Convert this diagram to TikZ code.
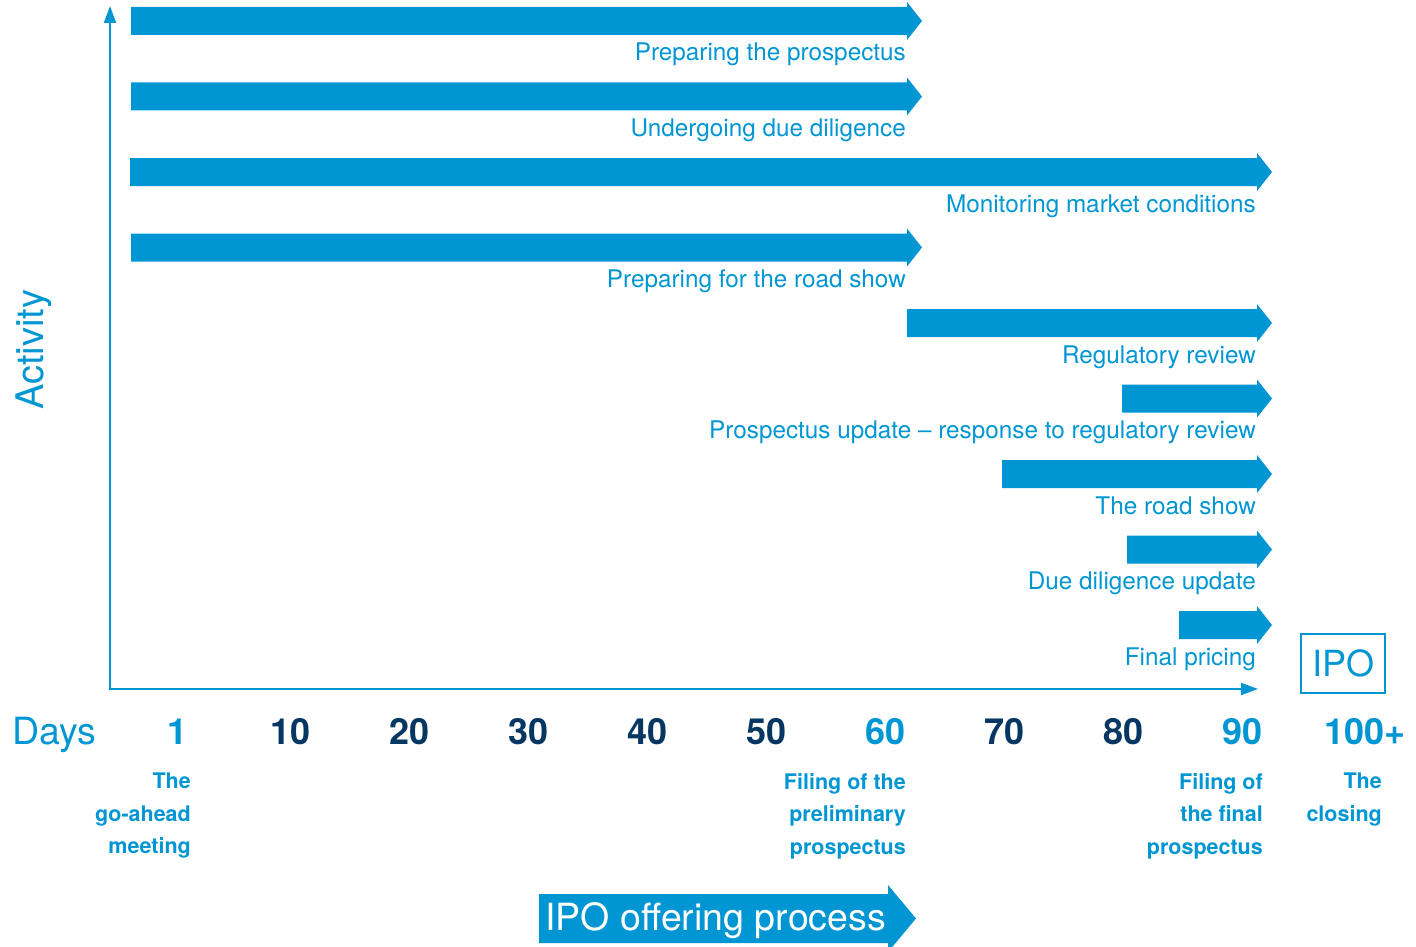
\documentclass[tikz,border=0pt]{standalone}
\usepackage{fontspec}
\setmainfont{TeX Gyre Heros}
\usetikzlibrary{arrows.meta}
\definecolor{ipoblue}{RGB}{0,150,211}
\definecolor{iponavy}{RGB}{6,55,99}

\tikzset{
    axisline/.style={draw=ipoblue, line width=2pt},
    actlabel/.style={text=ipoblue, font=\fontsize{24.3}{28}\selectfont, inner sep=0pt, anchor=base east},
    daynum/.style={font=\bfseries\fontsize{36}{40}\selectfont, inner sep=0pt, anchor=base east},
    milestone/.style={text=ipoblue, font=\bfseries\fontsize{21.5}{32.5}\selectfont, align=right, inner sep=0pt, anchor=north east},
}

\begin{document}
\begin{tikzpicture}[x=1pt, y=-1pt]
        \useasboundingbox (0,0) rectangle (1416,947);
        \clip (0,0) rectangle (1416,947);

        % axes
        \coordinate (origin) at (110,689);
        \coordinate (ytop) at (110,6);
        \coordinate (xend) at (1258,689);
        \draw[axisline, {Triangle[length=17pt,width=12pt]}-{Triangle[length=17pt,width=12pt]}] (ytop) |- (xend);
        \node[rotate=90, anchor=base, text=ipoblue, font=\fontsize{38}{40}\selectfont, inner sep=0pt] (activity) at (43,350) {Activity};

        % activity bars: number / centre / start / tip / text
        \foreach \i/\y/\xs/\xt/\txt in {
                1/21/131/922/Preparing the prospectus,
                2/96.5/131/922/Undergoing due diligence,
                3/172/130/1272/Monitoring market conditions,
                4/247.5/131/922/Preparing for the road show,
                5/323/907/1272/Regulatory review,
                6/398.5/1122/1272/Prospectus update -- response to regulatory review,
                7/474/1002/1272/The road show,
                8/549.5/1127/1272/Due diligence update,
                9/625/1179/1272/Final pricing} {
                \coordinate (bar-\i) at (\xs,\y);
                \fill[ipoblue] (bar-\i) ++(0,-14) -- (\xt-15,\y-14) -- (\xt-15,\y-19) -- (\xt,\y)
                        -- (\xt-15,\y+19) -- (\xt-15,\y+14) -- (\xs,\y+14) -- cycle;
                \node[actlabel] (label-\i) at (\xt-16,\y+40) {\txt};
            }

        \node[draw=ipoblue, line width=2pt, minimum width=84pt, minimum height=59pt, text=ipoblue,
                font=\fontsize{36}{40}\selectfont] (ipo) at (1343,663.5) {IPO};

        % day scale
        \node[anchor=base west, inner sep=0pt, text=ipoblue, font=\fontsize{37.5}{40}\selectfont] (days) at (12,744) {Days};
        \foreach \n/\x/\c [count=\k] in {1/188/ipoblue, 10/311/iponavy, 20/430/iponavy, 30/549/iponavy,
                40/668/iponavy, 50/787/iponavy, 60/906/ipoblue, 70/1025/iponavy, 80/1144/iponavy,
                90/1263/ipoblue, 100+/1406/ipoblue} {
                \node[daynum, text=\c] (day-\k) at (\x,744) {\n};
            }

        \node[milestone] (goahead) at (191,773) {The\\go-ahead\\meeting};
        \node[milestone] (prelim) at (906,773) {Filing of the\\preliminary\\prospectus};
        \node[milestone] (final) at (1263,773) {Filing of\\the final\\prospectus};
        \node[milestone] (closing) at (1382,773) {The\\closing};

        % process arrow
        \fill[ipoblue] (539,894) -- (888,894) -- (888,885) -- (916,918.5) -- (888,952) -- (888,943) -- (539,943) -- cycle;
        \node[anchor=base west, inner sep=0pt, text=white, font=\fontsize{37.5}{40}\selectfont] (process) at (545,930) {IPO offering process};
    \end{tikzpicture}
\end{document}
